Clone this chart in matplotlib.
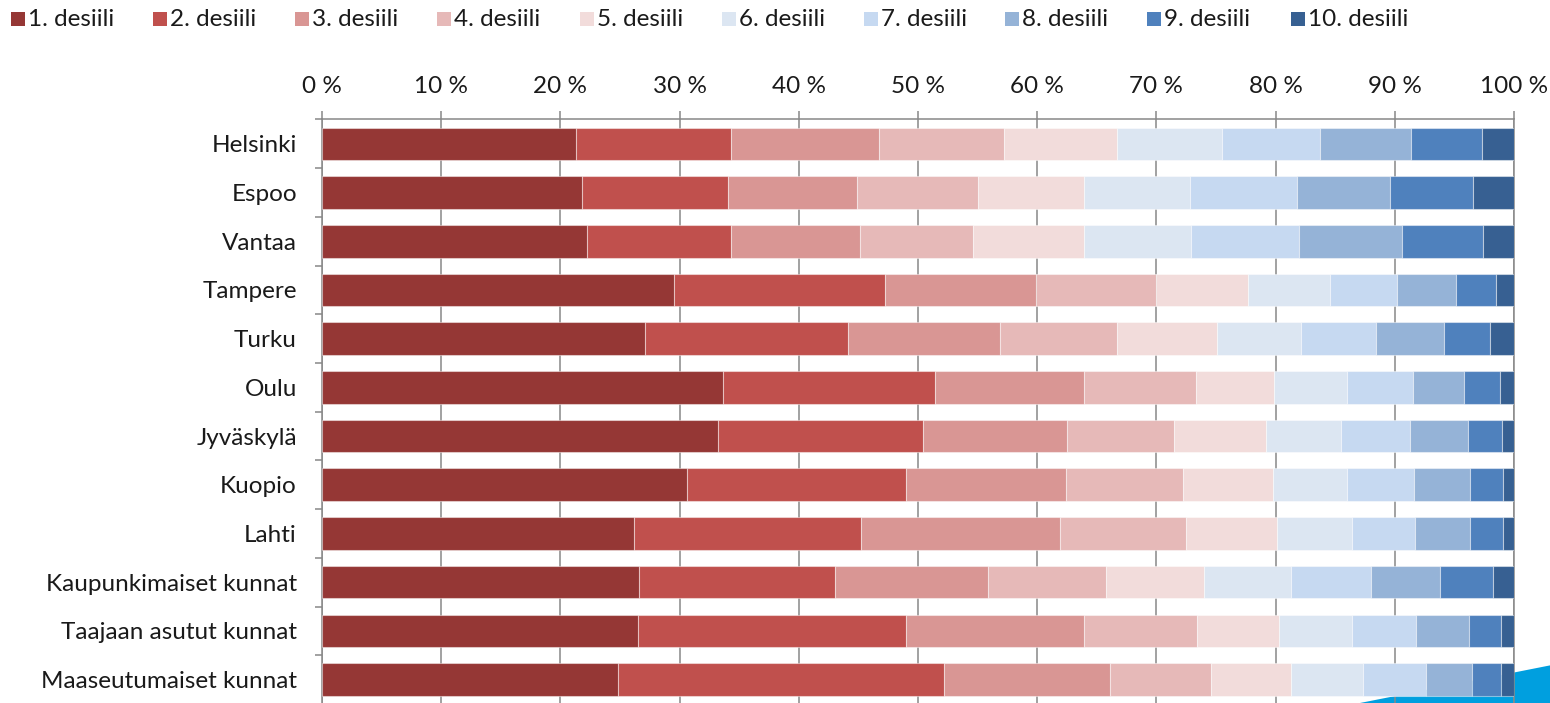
import matplotlib
matplotlib.use("Agg")
import matplotlib.pyplot as plt
from matplotlib.patches import Rectangle, Polygon
from matplotlib.ticker import FixedLocator

plt.rcParams['font.family'] = ['Lato', 'DejaVu Sans']

categories = ["Helsinki", "Espoo", "Vantaa", "Tampere", "Turku", "Oulu",
              "Jyväskylä", "Kuopio", "Lahti", "Kaupunkimaiset kunnat",
              "Taajaan asutut kunnat", "Maaseutumaiset kunnat"]

series_names = ["1. desiili", "2. desiili", "3. desiili", "4. desiili", "5. desiili",
                "6. desiili", "7. desiili", "8. desiili", "9. desiili", "10. desiili"]

d1 = [21.3, 21.8, 22.2, 29.5, 27.1, 33.6, 33.2, 30.6, 26.2, 26.6, 26.5, 24.8]
d2 = [13.0, 12.3, 12.1, 17.7, 17.0, 17.8, 17.2, 18.4, 19.0, 16.4, 22.5, 27.4]
d3 = [12.4, 10.8, 10.8, 12.7, 12.8, 12.5, 12.1, 13.4, 16.7, 12.9, 14.9, 13.9]
d4 = [10.5, 10.1, 9.5, 10.1, 9.8, 9.4, 9.0, 9.8, 10.6, 9.9, 9.5, 8.5]
d5 = [9.5, 8.9, 9.3, 7.7, 8.4, 6.6, 7.7, 7.6, 7.6, 8.2, 6.9, 6.7]
d6 = [8.8, 8.9, 9.0, 6.9, 7.0, 6.1, 6.3, 6.2, 6.3, 7.3, 6.1, 6.0]
d7 = [8.2, 9.0, 9.1, 5.6, 6.3, 5.5, 5.8, 5.6, 5.3, 6.7, 5.4, 5.3]
d8 = [7.7, 7.8, 8.6, 4.9, 5.7, 4.3, 4.8, 4.7, 4.6, 5.8, 4.4, 3.9]
d9 = [5.9, 7.0, 6.8, 3.4, 3.9, 3.0, 2.9, 2.8, 2.8, 4.4, 2.7, 2.4]
d10 = [2.7, 3.4, 2.6, 1.5, 2.0, 1.2, 1.0, 0.9, 0.9, 1.8, 1.1, 1.1]

xticks = [0, 10, 20, 30, 40, 50, 60, 70, 80, 90, 100]
xtick_labels = ["0 %", "10 %", "20 %", "30 %", "40 %", "50 %", "60 %", "70 %", "80 %", "90 %", "100 %"]

colors = ["#953735", "#C0504D", "#D99694", "#E6B9B8", "#F2DCDB",
          "#DCE6F2", "#C6D9F1", "#95B3D7", "#4F81BD", "#376092"]

series = [d1, d2, d3, d4, d5, d6, d7, d8, d9, d10]

FS = 17.5
W, H = 1550, 703
fig = plt.figure(figsize=(W / 100, H / 100), dpi=100)
fig.patch.set_facecolor("white")

# decorative blue shape bottom right
fig.add_artist(Polygon([(1360 / W, 0), (1 + 2 / W, 38 / H), (1 + 2 / W, 0)],
                       closed=True, transform=fig.transFigure,
                       facecolor="#009FDF", edgecolor="none", zorder=0))

ax_top = 119.5
ax_h = 12 * 48.7
ax = fig.add_axes([322 / W, 1 - (ax_top + ax_h) / H, 1192 / W, ax_h / H])
ax.set_facecolor("none")
ax.set_zorder(1)

ypos = list(range(len(categories)))
left = [0.0] * len(categories)
for name, vals, c in zip(series_names, series, colors):
    ax.barh(ypos, vals, left=left, height=0.67, color=c,
            edgecolor=(1, 1, 1, 0.45), linewidth=0.8, label=name, zorder=3)
    left = [l + v for l, v in zip(left, vals)]

ax.set_xlim(0, 100)
ax.set_ylim(11.5, -0.5)

grey = "#888888"
ax.xaxis.tick_top()
ax.set_xticks(xticks)
ax.set_xticklabels(xtick_labels, fontsize=FS, color="#1a1a1a")
ax.tick_params(axis="x", which="major", direction="out", length=6,
               width=1.1, color=grey, pad=10)
ax.xaxis.grid(True, color=grey, linewidth=1.1, zorder=0)
ax.set_axisbelow(True)

ax.set_yticks(ypos)
ax.set_yticklabels(categories, fontsize=FS, color="#1a1a1a")
ax.yaxis.set_minor_locator(FixedLocator([i - 0.5 for i in range(len(categories) + 1)]))
ax.tick_params(axis="y", which="major", length=0, pad=18)
ax.tick_params(axis="y", which="minor", direction="out", length=5,
               width=1.1, color=grey)

for s in ["top", "left", "right"]:
    ax.spines[s].set_color(grey)
    ax.spines[s].set_linewidth(1.1)
ax.spines["bottom"].set_visible(False)

# legend (manual, single row on top)
legend_x = [11, 153, 295, 437, 580, 722, 864, 1005, 1147, 1291]
for lx, name, c in zip(legend_x, series_names, colors):
    fig.add_artist(Rectangle((lx / W, 1 - 26 / H), 14 / W, 14 / H,
                             transform=fig.transFigure, facecolor=c,
                             edgecolor="none"))
    fig.text((lx + 17) / W, 1 - 19 / H, name, fontsize=FS, color="#1a1a1a",
             va="center", ha="left")

fig.savefig("out.png", dpi=100, facecolor="white")
